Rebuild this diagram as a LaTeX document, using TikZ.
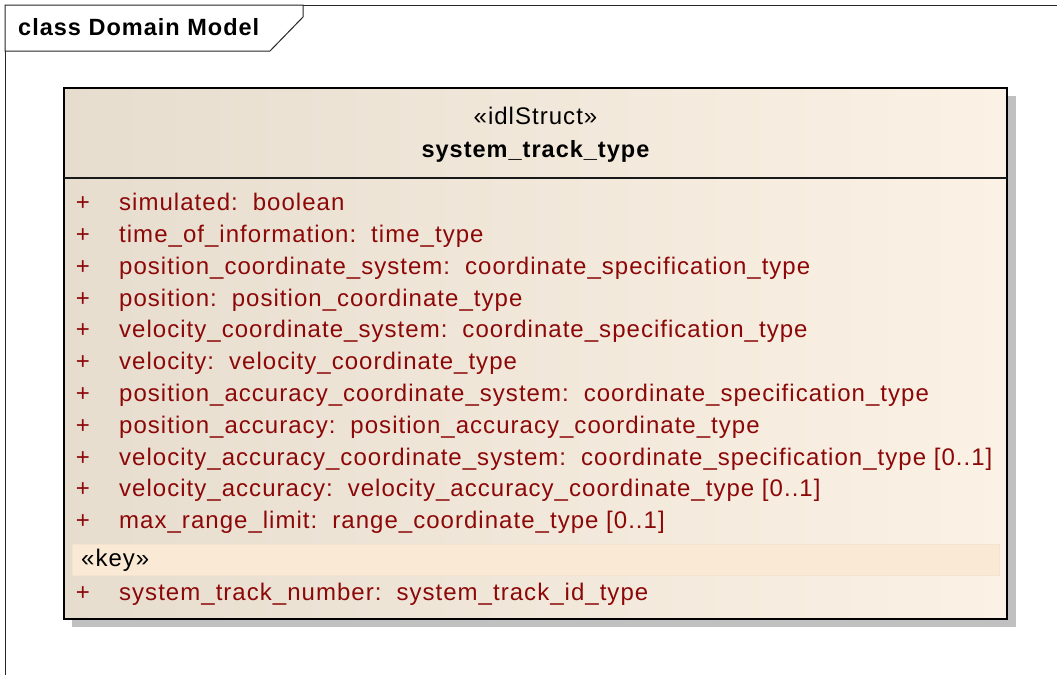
\documentclass[tikz,border=0pt]{standalone}
\usepackage{fontspec}
\setmainfont{Liberation Sans}
\newfontfamily\umlfont[LetterSpace=4.3]{Liberation Sans}
\definecolor{attrred}{RGB}{140,8,8}
\definecolor{boxleft}{RGB}{231,221,207}
\definecolor{boxright}{RGB}{251,241,228}
\definecolor{keyband}{RGB}{250,234,213}
\definecolor{keyedge}{RGB}{245,228,205}
\definecolor{shadowgray}{RGB}{192,192,192}
\newcommand\sepc{:\hspace{15pt}}
\tikzset{
  frameline/.style={draw=black!85, line width=1pt},
  umltext/.style={inner sep=0pt, font=\umlfont\fontsize{24}{28}\selectfont},
  attr/.style={umltext, anchor=base west, text=attrred},
  plus/.style={umltext, anchor=base, text=attrred},
}
\begin{document}
\begin{tikzpicture}[x=1pt,y=-1pt]
\useasboundingbox (0,0) rectangle (1057,675);
\fill[white] (0,0) rectangle (1057,675);
% outer frame
\draw[frameline] (5,675) -- (5,5) -- (1057,5);
\draw[frameline, fill=white] (5,5) -- (303,5) -- (303,17) -- (270,51) -- (5,51) -- cycle;
\node[umltext, anchor=base west, font=\umlfont\bfseries\fontsize{23.5}{28}\selectfont] (title) at (18,35) {class Domain Model};
% class box
\fill[shadowgray] (72,96) rectangle (1016,627);
\shade[left color=boxleft, right color=boxright] (64,88) rectangle (1007,619);
\draw[black, line width=2pt] (64,88) rectangle (1007,619);
\draw[black!90, line width=1.5pt] (64,178) -- (1007,178);
\node[umltext, anchor=base] (stereo) at (535.5,124) {«idlStruct»};
\node[umltext, anchor=base, font=\umlfont\bfseries\fontsize{23.5}{28}\selectfont] (cname) at (535.5,157) {system\_track\_type};
% attributes
\foreach \i in {0,...,10} {
  \node[plus] (p\i) at (83,{210.7+31.8*\i}) {+};
}
\node[attr] (a0) at (119,210.7) {simulated\sepc boolean};
\node[attr] (a1) at (119,242.5) {time\_of\_information\sepc time\_type};
\node[attr] (a2) at (119,274.3) {position\_coordinate\_system\sepc coordinate\_specification\_type};
\node[attr] (a3) at (119,306.1) {position\sepc position\_coordinate\_type};
\node[attr] (a4) at (119,337.9) {velocity\_coordinate\_system\sepc coordinate\_specification\_type};
\node[attr] (a5) at (119,369.7) {velocity\sepc velocity\_coordinate\_type};
\node[attr] (a6) at (119,401.5) {position\_accuracy\_coordinate\_system\sepc coordinate\_specification\_type};
\node[attr] (a7) at (119,433.3) {position\_accuracy\sepc position\_accuracy\_coordinate\_type};
\node[attr] (a8) at (119,465.1) {velocity\_accuracy\_coordinate\_system\sepc coordinate\_specification\_type [0..1]};
\node[attr] (a9) at (119,496.9) {velocity\_accuracy\sepc velocity\_accuracy\_coordinate\_type [0..1]};
\node[attr] (a10) at (119,528.7) {max\_range\_limit\sepc range\_coordinate\_type [0..1]};
% key section
\fill[keyband, draw=keyedge, line width=1pt] (72,544) rectangle (999,575);
\node[umltext, anchor=base west] (key) at (81,566.7) {«key»};
\node[plus] (pk) at (83,600) {+};
\node[attr] (k0) at (119,600) {system\_track\_number\sepc system\_track\_id\_type};
\end{tikzpicture}
\end{document}
